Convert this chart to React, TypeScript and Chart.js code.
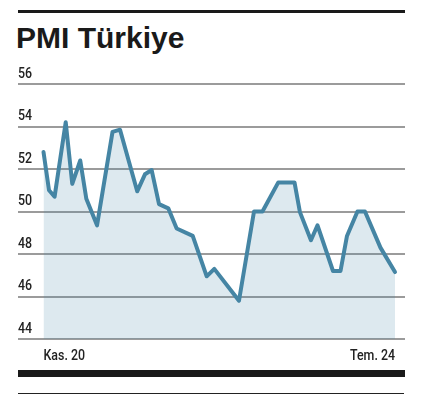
import React, { useEffect, useRef } from "react";
import { Chart, registerables } from "chart.js";

Chart.register(...registerables);

// Month offsets from Kas. 20 (Nov 2020), as positioned in the picture
const monthOffsets = [
  0, 0.69, 1.39, 2.78, 3.6, 4.6, 5.36, 6.7, 8.64, 9.58, 11.73, 12.7, 13.54,
  14.46, 15.62, 16.67, 18.68, 20.43, 21.38, 24.47, 26.35, 27.41, 29.39, 31.42,
  32.1, 33.48, 34.3, 36.24, 37.18, 37.99, 39.3, 40.24, 42.18, 44,
];
// PMI values
const pmiValues = [
  52.8, 51.0, 50.7, 54.2, 51.3, 52.4, 50.6, 49.35, 53.75, 53.85, 50.95, 51.75,
  51.95, 50.35, 50.15, 49.2, 48.85, 46.95, 47.3, 45.8, 50.0, 50.0, 51.37,
  51.37, 49.97, 48.65, 49.35, 47.2, 47.2, 48.85, 50.0, 50.0, 48.3, 47.15,
];
const xTickValues = [0, 44];
const xTickLabels = ["Kas. 20", "Tem. 24"];
const yMin = 44;
const yMax = 56;
const yStep = 2;
const titleText = "PMI Türkiye";

const LABEL_FONT = "500 15.5px Roboto, 'DejaVu Sans', sans-serif";
const LABEL_SCALE_X = 0.8;

const condensedLabels = {
  id: "condensedLabels",
  afterDraw(chart: any) {
    const ctx = chart.ctx as CanvasRenderingContext2D;
    const ys = chart.scales.y;
    const xs = chart.scales.x;
    ctx.save();
    ctx.fillStyle = "#222";
    ctx.font = LABEL_FONT;
    ctx.textBaseline = "alphabetic";
    ys.ticks.forEach((t: any) => {
      const py = ys.getPixelForValue(t.value);
      ctx.save();
      ctx.translate(ys.right, py - 6.5);
      ctx.scale(LABEL_SCALE_X, 1);
      ctx.textAlign = "left";
      ctx.fillText(String(t.value), 0, 0);
      ctx.restore();
    });
    xs.ticks.forEach((t: any, i: number) => {
      const px = xs.getPixelForValue(t.value);
      const idx = xTickValues.indexOf(t.value);
      if (idx < 0) return;
      ctx.save();
      ctx.translate(px, chart.chartArea.bottom + 20.5);
      ctx.scale(LABEL_SCALE_X, 1);
      ctx.textAlign = i === 0 ? "left" : i === xs.ticks.length - 1 ? "right" : "center";
      ctx.fillText(xTickLabels[idx], 0, 0);
      ctx.restore();
    });
    ctx.restore();
  },
};

export default function App() {
  const canvasRef = useRef<HTMLCanvasElement | null>(null);

  useEffect(() => {
    if (!canvasRef.current) return;
    const pxPerMonth = 351.5 / 44;
    const chart = new Chart(canvasRef.current, {
      type: "line",
      data: {
        datasets: [
          {
            data: monthOffsets.map((m, i) => ({ x: m, y: pmiValues[i] })),
            borderColor: "#4585a4",
            borderWidth: 4,
            backgroundColor: "rgba(69,133,164,0.18)",
            fill: "start",
            tension: 0,
            pointRadius: 0,
            borderJoinStyle: "round",
            borderCapStyle: "round",
          },
        ],
      },
      options: {
        animation: false,
        responsive: false,
        devicePixelRatio: 1,
        layout: { padding: { top: 84, left: 18, right: 25, bottom: 0 } },
        plugins: {
          legend: { display: false },
          tooltip: { enabled: false },
          title: { display: false },
        },
        scales: {
          x: {
            type: "linear",
            min: -25.5 / pxPerMonth,
            max: 44 + 10 / pxPerMonth,
            grid: { display: false, drawTicks: false },
            border: { display: false },
            afterBuildTicks: (scale: any) => {
              scale.ticks = xTickValues.map((v) => ({ value: v }));
            },
            afterFit: (scale: any) => {
              scale.height = 57;
            },
            ticks: { display: false },
          },
          y: {
            min: yMin,
            max: yMax,
            grid: { color: "#9b9b9b", lineWidth: 2, drawTicks: false },
            border: { display: false },
            afterFit: (scale: any) => {
              scale.width = 0;
            },
            ticks: { stepSize: yStep, display: false },
          },
        },
      },
      plugins: [condensedLabels],
    } as any);
    return () => chart.destroy();
  }, []);

  return (
    <div style={{ position: "fixed", left: 0, top: 0, width: 430, height: 396, background: "#fff" }}>
      <div style={{ position: "absolute", left: 18, top: 10, width: 387, height: 3, background: "#1a1a1a" }} />
      <div
        style={{
          position: "absolute",
          left: 16,
          top: 23,
          font: "bold 30px 'Liberation Sans', Arial, sans-serif",
          lineHeight: "30px",
          color: "#1a1a1a",
          whiteSpace: "nowrap",
        }}
      >
        {titleText}
      </div>
      <canvas
        ref={canvasRef}
        width={430}
        height={396}
        style={{ position: "absolute", left: 0, top: 0, width: 430, height: 396 }}
      />
      <div style={{ position: "absolute", left: 18, top: 370, width: 387, height: 7, background: "#1a1a1a" }} />
      <div style={{ position: "absolute", left: 18, top: 393, width: 386, height: 1, background: "#222" }} />
    </div>
  );
}
